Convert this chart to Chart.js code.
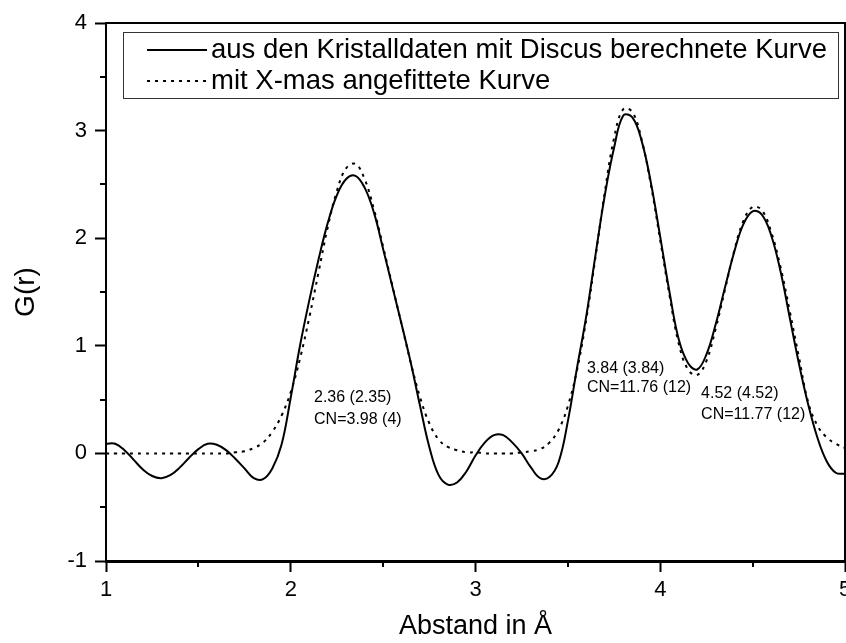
<!DOCTYPE html>
<html>
<head>
<meta charset="utf-8">
<script src="https://cdn.jsdelivr.net/npm/chart.js@4.4.0/dist/chart.umd.min.js"></script>
<style>
  body { margin: 0; background: #fff; }
  #wrap { width: 846px; height: 643px; }
</style>
</head>
<body>
<div id="wrap"><canvas id="gr-chart" width="846" height="643"></canvas></div>
<script>
// Abstand r in Angstrom, 0.05 Schritte
const abstand = [
  1.00, 1.05, 1.10, 1.15, 1.20, 1.25, 1.30, 1.35, 1.40, 1.45,
  1.50, 1.55, 1.60, 1.65, 1.70, 1.75, 1.80, 1.85, 1.90, 1.95,
  2.00, 2.05, 2.10, 2.15, 2.20, 2.25, 2.30, 2.35, 2.40, 2.45,
  2.50, 2.55, 2.60, 2.65, 2.70, 2.75, 2.80, 2.85, 2.90, 2.95,
  3.00, 3.05, 3.10, 3.15, 3.20, 3.25, 3.30, 3.35, 3.40, 3.45,
  3.50, 3.55, 3.60, 3.65, 3.70, 3.75, 3.80, 3.85, 3.90, 3.95,
  4.00, 4.05, 4.10, 4.15, 4.20, 4.25, 4.30, 4.35, 4.40, 4.45,
  4.50, 4.55, 4.60, 4.65, 4.70, 4.75, 4.80, 4.85, 4.90, 4.95,
  5.00
];

// G(r) aus Discus (Kristalldaten)
const discusKurve = [
  0.09, 0.09, 0.03, -0.06, -0.15, -0.21, -0.23, -0.20, -0.13, -0.04,
  0.04, 0.09, 0.08, 0.03, -0.05, -0.14, -0.23, -0.24, -0.14, 0.08,
  0.52, 1.00, 1.42, 1.80, 2.14, 2.40, 2.55, 2.58, 2.47, 2.24,
  1.90, 1.55, 1.20, 0.84, 0.44, 0.06, -0.20, -0.29, -0.27, -0.17,
  -0.02, 0.10, 0.17, 0.17, 0.10, 0.00, -0.13, -0.23, -0.22, -0.08,
  0.30, 0.80, 1.28, 1.85, 2.40, 2.84, 3.14, 3.12, 2.90, 2.51,
  2.01, 1.50, 1.06, 0.84, 0.78, 0.92, 1.20, 1.54, 1.87, 2.13,
  2.25, 2.22, 2.03, 1.70, 1.27, 0.84, 0.46, 0.15, -0.07, -0.18,
  -0.19
];

// G(r) mit X-mas angefittet
const xmasKurve = [
  0, 0, 0, 0, 0, 0, 0, 0, 0, 0,
  0, 0, 0, 0, 0.01, 0.02, 0.05, 0.10, 0.20, 0.35,
  0.57, 0.88, 1.26, 1.68, 2.10, 2.44, 2.65, 2.69, 2.55, 2.27,
  1.92, 1.56, 1.20, 0.84, 0.52, 0.28, 0.13, 0.06, 0.03, 0.01,
  0.01, 0, 0, 0, 0, 0.01, 0.02, 0.04, 0.10, 0.22,
  0.44, 0.78, 1.25, 1.83, 2.43, 2.93, 3.20, 3.17, 2.91, 2.49,
  1.98, 1.47, 1.02, 0.78, 0.73, 0.86, 1.16, 1.52, 1.88, 2.16,
  2.29, 2.26, 2.06, 1.74, 1.33, 0.90, 0.48, 0.26, 0.15, 0.09,
  0.05
];

const kurvenNamen = ['aus den Kristalldaten mit Discus berechnete Kurve', 'mit X-mas angefittete Kurve'];

const minorX = [1.5, 2.5, 3.5, 4.5];
const minorY = [-0.5, 0.5, 1.5, 2.5, 3.5];

// Abstand (Fit) und Koordinationszahl an den Peaks
const peakText = ['2.36 (2.35)', 'CN=3.98 (4)', '3.84 (3.84)', 'CN=11.76 (12)', '4.52 (4.52)', 'CN=11.77 (12)'];
const peakTextX = [2.126, 2.126, 3.603, 3.603, 4.221, 4.221];
const peakTextY = [0.515, 0.31, 0.784, 0.608, 0.552, 0.357];

const FONT = '"Liberation Sans", Arial, Helvetica, sans-serif';

function toPoints(ys) {
  return abstand.map((x, i) => ({ x: x, y: ys[i] }));
}

// oberer/rechter Rahmen und kleine Zwischenticks
const framePlugin = {
  id: 'framePlugin',
  afterDraw(chart) {
    const { ctx, chartArea: a, scales } = chart;
    ctx.save();
    ctx.strokeStyle = '#000';
    ctx.lineWidth = 2;
    ctx.beginPath();
    ctx.moveTo(a.left, a.top);
    ctx.lineTo(a.right, a.top);
    ctx.lineTo(a.right, a.bottom);
    ctx.stroke();

    ctx.beginPath();
    minorX.forEach(v => {
      const px = Math.round(scales.x.getPixelForValue(v));
      ctx.moveTo(px, a.bottom);
      ctx.lineTo(px, a.bottom + 6);
    });
    minorY.forEach(v => {
      const py = Math.round(scales.y.getPixelForValue(v));
      ctx.moveTo(a.left, py);
      ctx.lineTo(a.left - 6, py);
    });
    ctx.stroke();

    // Peak-Beschriftungen
    ctx.fillStyle = '#000';
    ctx.font = '16px ' + FONT;
    ctx.textAlign = 'left';
    ctx.textBaseline = 'middle';
    peakText.forEach((t, i) => {
      ctx.fillText(t, scales.x.getPixelForValue(peakTextX[i]), scales.y.getPixelForValue(peakTextY[i]));
    });
    ctx.restore();
  }
};

// Legende mit Rahmen innerhalb des Plots
const legendPlugin = {
  id: 'legendPlugin',
  afterDraw(chart) {
    const ctx = chart.ctx;
    ctx.save();
    ctx.strokeStyle = '#333';
    ctx.lineWidth = 1;
    ctx.strokeRect(123.5, 32.5, 715, 66);
    chart.data.datasets.forEach((ds, i) => {
      const y = 50 + i * 31;
      ctx.beginPath();
      ctx.setLineDash(ds.borderDash || []);
      ctx.lineWidth = ds.borderWidth;
      ctx.strokeStyle = ds.borderColor;
      ctx.moveTo(147, y);
      ctx.lineTo(207, y);
      ctx.stroke();
      ctx.setLineDash([]);
      ctx.fillStyle = '#000';
      ctx.font = '27.5px ' + FONT;
      ctx.textBaseline = 'middle';
      ctx.fillText(ds.label, 211, y);
    });
    ctx.restore();
  }
};

new Chart(document.getElementById('gr-chart'), {
  type: 'line',
  data: {
    datasets: [{
      label: kurvenNamen[0],
      data: toPoints(discusKurve),
      borderColor: '#000',
      borderWidth: 2,
      pointRadius: 0,
      tension: 0.4,
      fill: false
    }, {
      label: kurvenNamen[1],
      data: toPoints(xmasKurve),
      borderColor: '#000',
      borderWidth: 2,
      borderDash: [3, 5],
      pointRadius: 0,
      tension: 0.4,
      fill: false
    }]
  },
  options: {
    responsive: false,
    devicePixelRatio: 1,
    animation: false,
    layout: { padding: { top: 23, right: 1, bottom: 0, left: 0 } },
    plugins: {
      legend: { display: false },
      tooltip: { enabled: false }
    },
    scales: {
      x: {
        type: 'linear',
        min: 1,
        max: 5,
        border: { display: true, color: '#000', width: 3 },
        grid: { drawOnChartArea: false, drawTicks: true, tickLength: 11, tickWidth: 2, tickColor: '#000' },
        ticks: {
          stepSize: 1,
          autoSkip: false,
          maxRotation: 0,
          padding: 5,
          color: '#000',
          font: { family: FONT, size: 22 }
        },
        title: {
          display: true,
          text: 'Abstand in Å',
          color: '#000',
          font: { family: FONT, size: 27 },
          padding: { top: 0, bottom: 0 }
        },
        afterFit(s) {
          s.height = 82;
          s.paddingLeft = 0;
          s.paddingRight = 0;
        }
      },
      y: {
        min: -1,
        max: 4,
        border: { display: true, color: '#000', width: 2 },
        grid: { drawOnChartArea: false, drawTicks: true, tickLength: 11, tickWidth: 2, tickColor: '#000' },
        ticks: {
          stepSize: 1,
          padding: 8,
          color: '#000',
          font: { family: FONT, size: 22 }
        },
        title: {
          display: true,
          text: 'G(r)',
          color: '#000',
          font: { family: FONT, size: 28 },
          padding: { top: 9, bottom: 0 }
        },
        afterFit(s) {
          s.width = 106;
          s.paddingTop = 0;
          s.paddingBottom = 0;
        }
      }
    }
  },
  plugins: [framePlugin, legendPlugin]
});
</script>
</body>
</html>
